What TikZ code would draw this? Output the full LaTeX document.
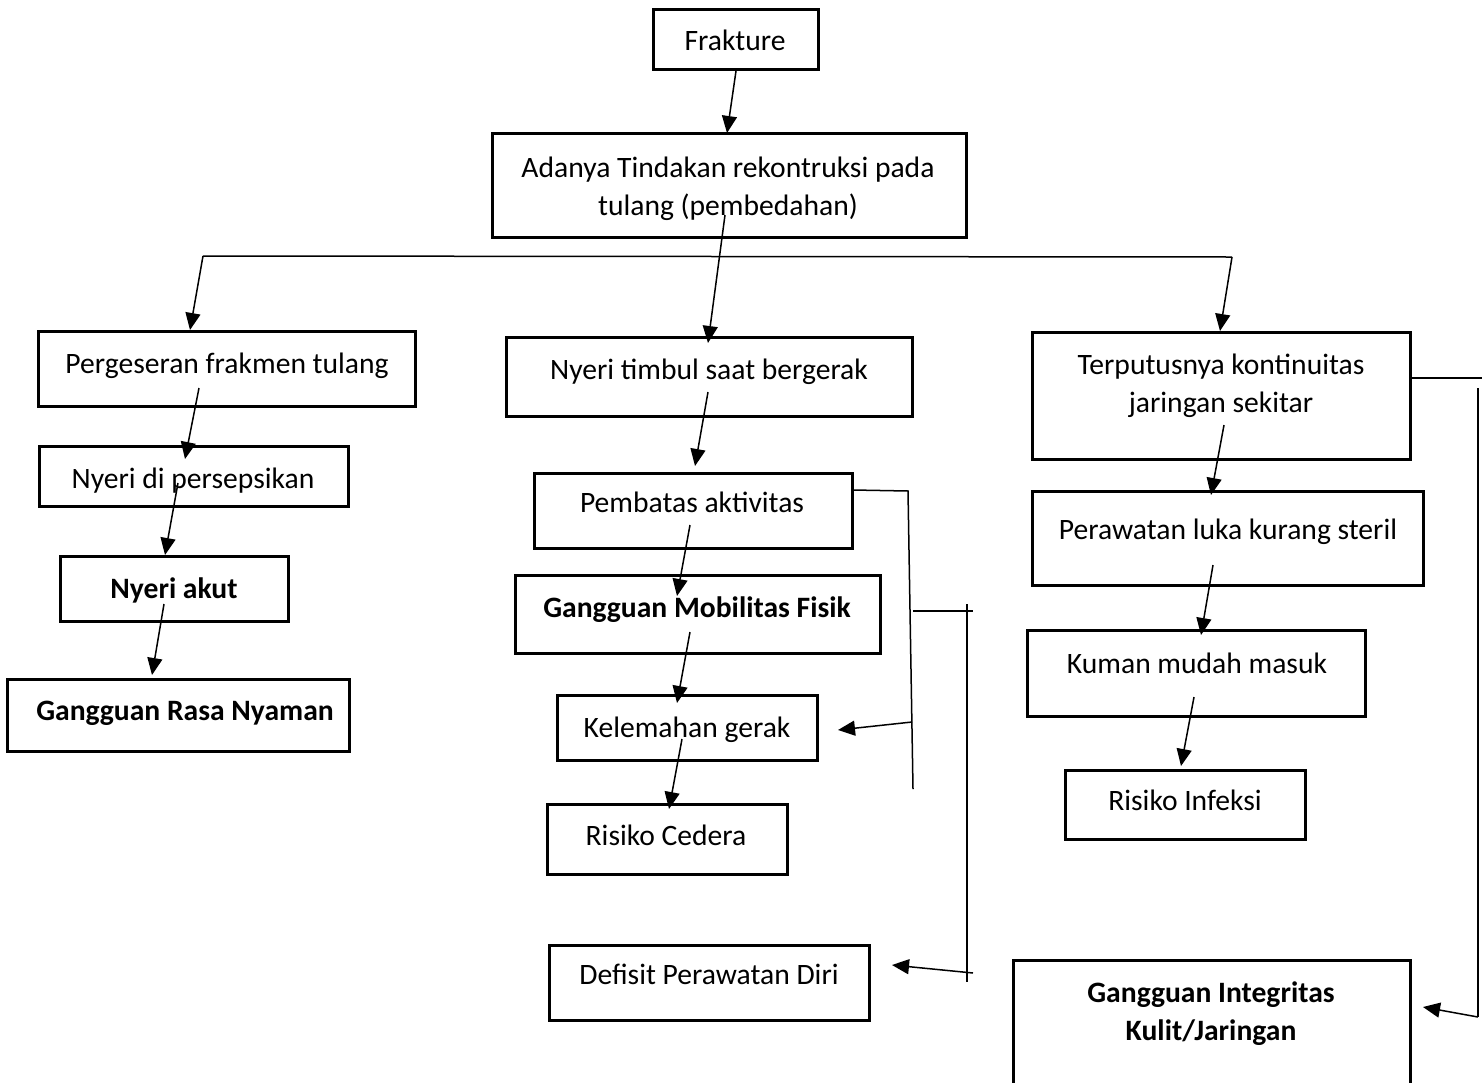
\documentclass[tikz,border=0pt]{standalone}
\usepackage{fontspec}
\setmainfont{Carlito}
\usetikzlibrary{arrows.meta,fit}
\begin{document}
\begin{tikzpicture}[x=1pt,y=-1pt,
  box/.style={draw, line width=3pt, inner sep=0pt},
  txt/.style={font=\fontsize{29.6}{38}\selectfont, align=center, inner sep=0pt, anchor=base},
  btxt/.style={txt, font=\fontsize{29.6}{38}\selectfont\bfseries},
  mtxt/.style={anchor=center},
  ln/.style={line width=1.5pt},
  con/.style={line width=1.5pt, -{Triangle[length=17pt,width=15pt]}}]
\useasboundingbox[fill=white] (0,0) rectangle (1482,1082);

% boxes
\node[box, fit={(653,9) (818,69)}] (fr) {};
\node[box, fit={(492,133) (966,237)}] (ad) {};
\node[box, fit={(38,331) (415,406)}] (pg) {};
\node[box, fit={(39,446) (348,506)}] (nd) {};
\node[box, fit={(60,556) (288,621)}] (na) {};
\node[box, fit={(7,679) (349,751)}] (grn) {};
\node[box, fit={(506,337) (912,416)}] (nt) {};
\node[box, fit={(534,473) (852,548)}] (pa) {};
\node[box, fit={(515,575) (880,653)}] (gmf) {};
\node[box, fit={(557,695) (817,760)}] (kg) {};
\node[box, fit={(547,804) (787,874)}] (rc) {};
\node[box, fit={(549,945) (869,1020)}] (dpd) {};
\node[box, fit={(1032,332) (1410,459)}] (tk) {};
\node[box, fit={(1032,491) (1423,585)}] (pl) {};
\node[box, fit={(1027,630) (1365,716)}] (km) {};
\node[box, fit={(1065,770) (1305,839)}] (ri) {};
\path[box] (1013,1095) -- (1013,960) -- (1410,960) -- (1410,1095);
\coordinate (gikj) at (1211,1010);

% texts (single lines placed by baseline)
\node[txt] (tfr) at (735,50.3) {Frakture};
\node[txt, mtxt] (tad) at (728,189) {Adanya Tindakan rekontruksi pada\\tulang (pembedahan)};
\node[txt] (tpg) at (227,373.3) {Pergeseran frakmen tulang};
\node[txt] (tnd) at (193,488.3) {Nyeri di persepsikan};
\node[btxt] (tna) at (174,598.3) {Nyeri akut};
\node[btxt] (tgrn) at (185,720.3) {Gangguan Rasa Nyaman};
\node[txt] (tnt) at (709,379.3) {Nyeri timbul saat bergerak};
\node[txt] (tpa) at (692,512.3) {Pembatas aktivitas};
\node[btxt] (tgmf) at (697,617.3) {Gangguan Mobilitas Fisik};
\node[txt] (tkg) at (687,737.3) {Kelemahan gerak};
\node[txt] (trc) at (666,845.3) {Risiko Cedera};
\node[txt] (tdpd) at (709,984.3) {Defisit Perawatan Diri};
\node[txt, mtxt] (ttk) at (1221,386) {Terputusnya kontinuitas\\jaringan sekitar};
\node[txt] (tpl) at (1228,539.3) {Perawatan luka kurang steril};
\node[txt] (tkm) at (1197,673.3) {Kuman mudah masuk};
\node[txt] (tri) at (1185,810.3) {Risiko Infeksi};
\node[btxt, mtxt] (tgikj) at (1211,1014) {Gangguan Integritas\\Kulit/Jaringan};

% coordinates for connectors
\coordinate (a1) at (736,71);   \coordinate (b1) at (727,133);
\coordinate (a2) at (725,215);  \coordinate (b2) at (708,343);
\coordinate (hl) at (203,256);  \coordinate (hr) at (1232,257);
\coordinate (bl) at (190,330);  \coordinate (br) at (1220,331);
\coordinate (l1) at (199,388);  \coordinate (l1e) at (185,459);
\coordinate (l2) at (178,483);  \coordinate (l2e) at (165,555);
\coordinate (l3) at (164,604);  \coordinate (l3e) at (152,675);
\coordinate (m1) at (708,392);  \coordinate (m1e) at (695,466);
\coordinate (m2) at (690,525);  \coordinate (m2e) at (677,596);
\coordinate (m3) at (690,632);  \coordinate (m3e) at (677,703);
\coordinate (m4) at (682,739);  \coordinate (m4e) at (669,809);
\coordinate (s1) at (853,490);  \coordinate (s1t) at (908,491);
\coordinate (s1b) at (913,789); \coordinate (s1m) at (913,611);
\coordinate (s2r) at (973,611); \coordinate (s2t) at (967,604);
\coordinate (s2b) at (967,982); \coordinate (s1k) at (912,722);
\coordinate (kgt) at (838,730); \coordinate (s2d) at (973,973);
\coordinate (dpt) at (892,965);
\coordinate (r1) at (1224,425); \coordinate (r1e) at (1211,495);
\coordinate (r2) at (1213,565); \coordinate (r2e) at (1201,635);
\coordinate (r3) at (1194,697); \coordinate (r3e) at (1181,766);
\coordinate (t1) at (1410,378); \coordinate (t1r) at (1482,378);
\coordinate (t2t) at (1478,388); \coordinate (t2b) at (1478,1017);
\coordinate (gkt) at (1423,1007);

% connectors
\draw[con] (a1) -- (b1);
\draw[con] (a2) -- (b2);
\draw[ln] (hl) -- (hr);
\draw[con] (hl) -- (bl);
\draw[con] (hr) -- (br);
\draw[con] (l1) -- (l1e);
\draw[con] (l2) -- (l2e);
\draw[con] (l3) -- (l3e);
\draw[con] (m1) -- (m1e);
\draw[con] (m2) -- (m2e);
\draw[con] (m3) -- (m3e);
\draw[con] (m4) -- (m4e);
\draw[ln] (s1) -- (s1t) -- (s1b);
\draw[ln] (s1m) -- (s2r);
\draw[ln] (s2t) -- (s2b);
\draw[con] (s1k) -- (kgt);
\draw[con] (s2d) -- (dpt);
\draw[con] (r1) -- (r1e);
\draw[con] (r2) -- (r2e);
\draw[con] (r3) -- (r3e);
\draw[ln] (t1) -- (t1r);
\draw[ln] (t2t) -- (t2b);
\draw[con] (t2b) -- (gkt);
\end{tikzpicture}
\end{document}
